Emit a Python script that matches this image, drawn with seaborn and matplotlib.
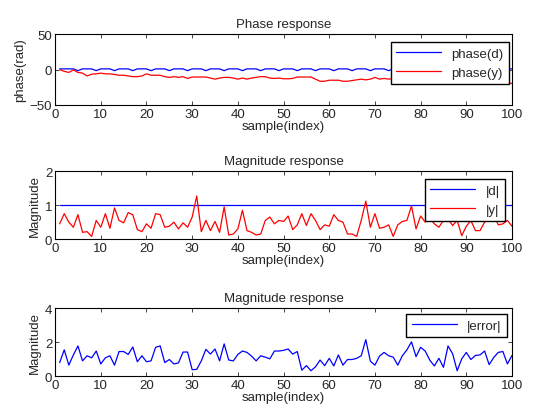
import numpy as np
import pandas as pd
import seaborn as sns
from matplotlib import pyplot as plt

sample = list(range(1, 101))

phase_d = [1.0, 1.0, 1.0, 1.0, -1.5, 1.0, 1.0, 1.0, -1.5, 1.0,
           1.0, 1.0, -1.5, 1.0, 1.0, 1.0, -1.5, 1.0, 1.0, 1.0,
           -1.5, 1.0, 1.0, 1.0, -1.5, 1.0, 1.0, 1.0, -1.5, 1.0,
           1.0, 1.0, -1.5, 1.0, 1.0, 1.0, -1.5, 1.0, 1.0, 1.0,
           -1.5, 1.0, 1.0, 1.0, -1.5, 1.0, 1.0, 1.0, -1.5, 1.0,
           1.0, 1.0, -1.5, 1.0, 1.0, 1.0, -1.5, 1.0, 1.0, 1.0,
           -1.5, 1.0, 1.0, 1.0, -1.5, 1.0, 1.0, 1.0, -1.5, 1.0,
           1.0, 1.0, -1.5, 1.0, 1.0, 1.0, -1.5, 1.0, 1.0, 1.0,
           -1.5, 1.0, 1.0, 1.0, -1.5, 1.0, 1.0, 1.0, -1.5, 1.0,
           1.0, 1.0, -1.5, 1.0, 1.0, 1.0, -1.5, 1.0, 1.0, 1.0]

phase_y = [0, -2.5, -4, -0.5, -4, -5, -9, -6.5, -6, -5,
           -6, -6, -7, -8, -8, -9, -10, -10, -9, -6,
           -8, -8, -8, -10, -11, -10, -11, -10, -12.5, -10.5,
           -10.5, -10.5, -10.5, -12, -13.5, -12, -11, -11, -12, -13.5,
           -12, -13.5, -12, -11, -10, -10, -12, -12.5, -12, -13,
           -13, -12.5, -10.5, -10.5, -10.5, -10.5, -13.5, -16.5, -16.5, -15,
           -15, -15, -16.5, -16.5, -15.5, -14.5, -13.5, -14.5, -13.5, -11,
           -13.5, -12.5, -13.5, -12.5, -14, -15, -14.5, -15.5, -16, -15,
           -16, -17, -16, -15.5, -16.5, -17, -16, -17.5, -18, -17,
           -16.5, -17.5, -18, -17, -18.5, -18, -17.5, -18.5, -17, -20]

mag_d = [1.0] * 100

mag_y = [0.45, 0.75, 0.5, 0.35, 0.72, 0.2, 0.22, 0.08, 0.55, 0.35,
         0.75, 0.32, 0.92, 0.55, 0.48, 0.78, 0.72, 0.28, 0.22, 0.45,
         0.32, 0.75, 0.72, 0.35, 0.38, 0.5, 0.3, 0.48, 0.35, 0.65,
         1.27, 0.22, 0.55, 0.25, 0.52, 0.2, 0.95, 0.12, 0.15, 0.3,
         0.85, 0.25, 0.2, 0.12, 0.15, 0.55, 0.65, 0.45, 0.55, 0.52,
         0.68, 0.28, 0.42, 0.75, 0.4, 0.75, 0.55, 0.28, 0.42, 0.38,
         0.72, 0.55, 0.5, 0.15, 0.15, 0.08, 0.55, 1.12, 0.35, 0.75,
         0.32, 0.35, 0.42, 0.08, 0.42, 0.52, 0.55, 0.98, 0.3, 0.68,
         0.5, 0.62, 0.45, 0.35, 0.55, 0.6, 0.4, 0.55, 0.1, 0.38,
         0.55, 0.25, 0.25, 0.5, 0.6, 0.7, 0.42, 0.45, 0.55, 0.38]

mag_err = [0.8, 1.55, 0.65, 1.25, 1.78, 0.9, 1.2, 1.08, 1.48, 0.72,
           1.08, 1.2, 0.65, 1.45, 1.45, 1.28, 1.72, 0.85, 1.2, 0.85,
           0.9, 1.7, 1.78, 0.8, 0.98, 0.72, 0.78, 1.42, 1.42, 0.38,
           0.4, 0.9, 1.58, 1.3, 1.6, 0.9, 1.9, 0.95, 0.9, 1.28,
           1.48, 1.4, 1.18, 0.9, 1.2, 1.12, 1.02, 1.48, 1.48, 1.52,
           1.6, 1.3, 1.45, 0.35, 0.62, 0.32, 0.55, 0.95, 0.62, 1.05,
           0.6, 1.25, 0.65, 0.98, 0.98, 1.05, 1.2, 2.15, 0.88, 0.65,
           1.18, 1.4, 1.2, 1.12, 0.65, 1.2, 1.55, 2.02, 1.15, 1.7,
           1.48, 0.95, 0.6, 1.05, 0.52, 1.78, 1.32, 0.32, 1.02, 1.4,
           0.98, 1.22, 1.25, 1.48, 0.68, 1.1, 1.4, 1.45, 0.72, 1.22]

sns.set_style("ticks")
plt.rcParams['font.family'] = ['Liberation Sans', 'DejaVu Sans']
plt.rcParams['font.size'] = 9.5

fig = plt.figure(figsize=(5.35, 4.14), dpi=100)
ax1 = fig.add_axes([0.103, 0.744, 0.854, 0.171])
ax2 = fig.add_axes([0.103, 0.420, 0.854, 0.164])
ax3 = fig.add_axes([0.103, 0.089, 0.854, 0.164])

sns.lineplot(x=sample, y=phase_d, color='blue', lw=0.9, label='phase(d)', ax=ax1)
sns.lineplot(x=sample, y=phase_y, color='red', lw=0.9, label='phase(y)', ax=ax1)
sns.lineplot(x=sample, y=mag_d, color='blue', lw=0.9, label='|d|', ax=ax2)
sns.lineplot(x=sample, y=mag_y, color='red', lw=0.9, label='|y|', ax=ax2)
sns.lineplot(x=sample, y=mag_err, color='blue', lw=0.9, label='|error|', ax=ax3)

settings = [
    (ax1, 'Phase response', 'phase(rad)', (-50, 50), [-50, 0, 50], (0.993, 0.887)),
    (ax2, 'Magnitude response', 'Magnitude', (0, 2), [0, 1, 2], (0.985, 0.882)),
    (ax3, 'Magnitude response', 'Magnitude', (0, 4), [0, 2, 4], (0.989, 0.912)),
]
for ax, title, ylab, ylim, yticks, anchor in settings:
    ax.set_xlim(0, 100)
    ax.set_ylim(*ylim)
    ax.set_xticks(range(0, 101, 10))
    ax.set_yticks(yticks)
    ax.set_title(title, fontsize=9.5, pad=5)
    ax.set_xlabel('sample(index)', fontsize=9.5, labelpad=0)
    ax.set_ylabel(ylab, fontsize=9.5, labelpad=3)
    ax.tick_params(direction='in', top=True, right=True, length=3, width=0.6,
                   labelsize=9.5, pad=2)
    for s in ax.spines.values():
        s.set_visible(True)
        s.set_color('black')
        s.set_linewidth(0.8)
    leg = ax.legend(loc='upper right', bbox_to_anchor=anchor, fancybox=False,
                    framealpha=1, edgecolor='black', fontsize=9.5,
                    handlelength=3.4, borderaxespad=0)
    leg.get_frame().set_linewidth(1.0)

plt.savefig("out.png", dpi=100)
